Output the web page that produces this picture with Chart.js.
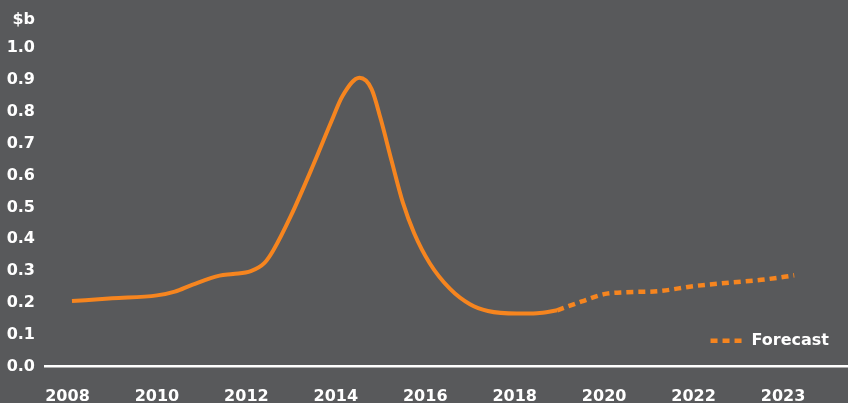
<!DOCTYPE html>
<html>
<head>
<meta charset="utf-8">
<script src="https://cdn.jsdelivr.net/npm/chart.js@4.4.1/dist/chart.umd.min.js"></script>
<style>
    html, body { margin: 0; padding: 0; background: #58595b; }
    #chart { display: block; }
</style>
</head>
<body>
<canvas id="chart" width="848" height="403"></canvas>
<script>
// 数据 ($b)
const actualYears = [2008.1, 2009, 2010, 2010.4, 2010.8, 2011.4, 2011.7, 2012.1, 2012.4, 2012.6, 2013, 2013.5, 2013.9, 2014.15, 2014.53, 2014.8, 2015, 2015.25, 2015.5, 2015.75, 2016.1, 2016.55, 2017, 2017.4, 2018.05, 2018.5, 2018.95];
const actualValues = [0.206, 0.215, 0.224, 0.236, 0.258, 0.286, 0.291, 0.300, 0.325, 0.365, 0.475, 0.635, 0.77, 0.85, 0.907, 0.872, 0.78, 0.645, 0.515, 0.42, 0.325, 0.245, 0.196, 0.175, 0.167, 0.168, 0.177];

const forecastYears = [2018.95, 2019.5, 2020, 2020.5, 2021.2, 2022, 2022.8, 2023.6, 2024.25];
const forecastValues = [0.177, 0.205, 0.228, 0.234, 0.237, 0.253, 0.264, 0.274, 0.287];

// x轴刻度位置和文字
const tickYears = [2008, 2010, 2012, 2014, 2016, 2018, 2020, 2022, 2024];
const tickLabels = ['2008', '2010', '2012', '2014', '2016', '2018', '2020', '2022', '2023'];
const yTicks = [0, 0.1, 0.2, 0.3, 0.4, 0.5, 0.6, 0.7, 0.8, 0.9, 1.0];
const unitLabel = '$b';

const ORANGE = '#f6851f';
const WHITE = '#ffffff';
const FONT = { family: '"DejaVu Sans", sans-serif', size: 16, weight: 'bold' };

const toPoints = (xs, ys) => xs.map((x, i) => ({ x: x, y: ys[i] }));

// 图例画在图表区右下角
const forecastLegend = {
    id: 'forecastLegend',
    afterDraw(chart) {
        const ds = chart.data.datasets[1];
        const ctx = chart.ctx;
        const area = chart.chartArea;
        const y = area.bottom - 26;
        const textRight = area.right - 19;
        ctx.save();
        ctx.font = `bold ${FONT.size}px ${FONT.family}`;
        const w = ctx.measureText(ds.label).width;
        const textLeft = textRight - w;
        ctx.strokeStyle = ds.borderColor;
        ctx.lineWidth = ds.borderWidth;
        ctx.setLineDash(ds.borderDash);
        ctx.beginPath();
        ctx.moveTo(textLeft - 41, y);
        ctx.lineTo(textLeft - 10, y);
        ctx.stroke();
        ctx.setLineDash([]);
        ctx.fillStyle = WHITE;
        ctx.textBaseline = 'middle';
        ctx.fillText(ds.label, textLeft, y);
        ctx.restore();
    }
};

new Chart(document.getElementById('chart'), {
    type: 'line',
    data: {
        datasets: [
            {
                label: 'Actual',
                data: toPoints(actualYears, actualValues),
                borderColor: ORANGE,
                borderWidth: 4,
                cubicInterpolationMode: 'monotone',
                pointRadius: 0
            },
            {
                label: 'Forecast',
                data: toPoints(forecastYears, forecastValues),
                borderColor: ORANGE,
                borderWidth: 4.5,
                borderDash: [7, 5],
                cubicInterpolationMode: 'monotone',
                pointRadius: 0
            }
        ]
    },
    options: {
        responsive: false,
        animation: false,
        layout: { padding: { top: 18, right: 0, bottom: 0, left: 0 } },
        plugins: {
            legend: { display: false },
            tooltip: { enabled: false }
        },
        scales: {
            x: {
                type: 'linear',
                min: 2007.497,
                max: 2025.453,
                afterFit(scale) { scale.height = 36.3; },
                afterBuildTicks(scale) { scale.ticks = tickYears.map(v => ({ value: v })); },
                grid: { display: false, drawTicks: false },
                border: { display: true, color: WHITE, width: 2.5 },
                ticks: {
                    color: WHITE,
                    font: FONT,
                    padding: 21,
                    maxRotation: 0,
                    autoSkip: false,
                    callback: (v) => tickLabels[tickYears.indexOf(v)]
                }
            },
            y: {
                min: 0,
                max: 1.09,
                afterFit(scale) { scale.width = 45; },
                afterBuildTicks(scale) {
                    scale.ticks = yTicks.map(v => ({ value: v })).concat([{ value: 1.09 }]);
                },
                grid: { display: false, drawTicks: false },
                border: { display: false },
                ticks: {
                    color: WHITE,
                    font: FONT,
                    padding: 10,
                    autoSkip: false,
                    callback: (v) => v > 1.05 ? unitLabel : v.toFixed(1)
                }
            }
        }
    },
    plugins: [forecastLegend]
});
</script>
</body>
</html>
